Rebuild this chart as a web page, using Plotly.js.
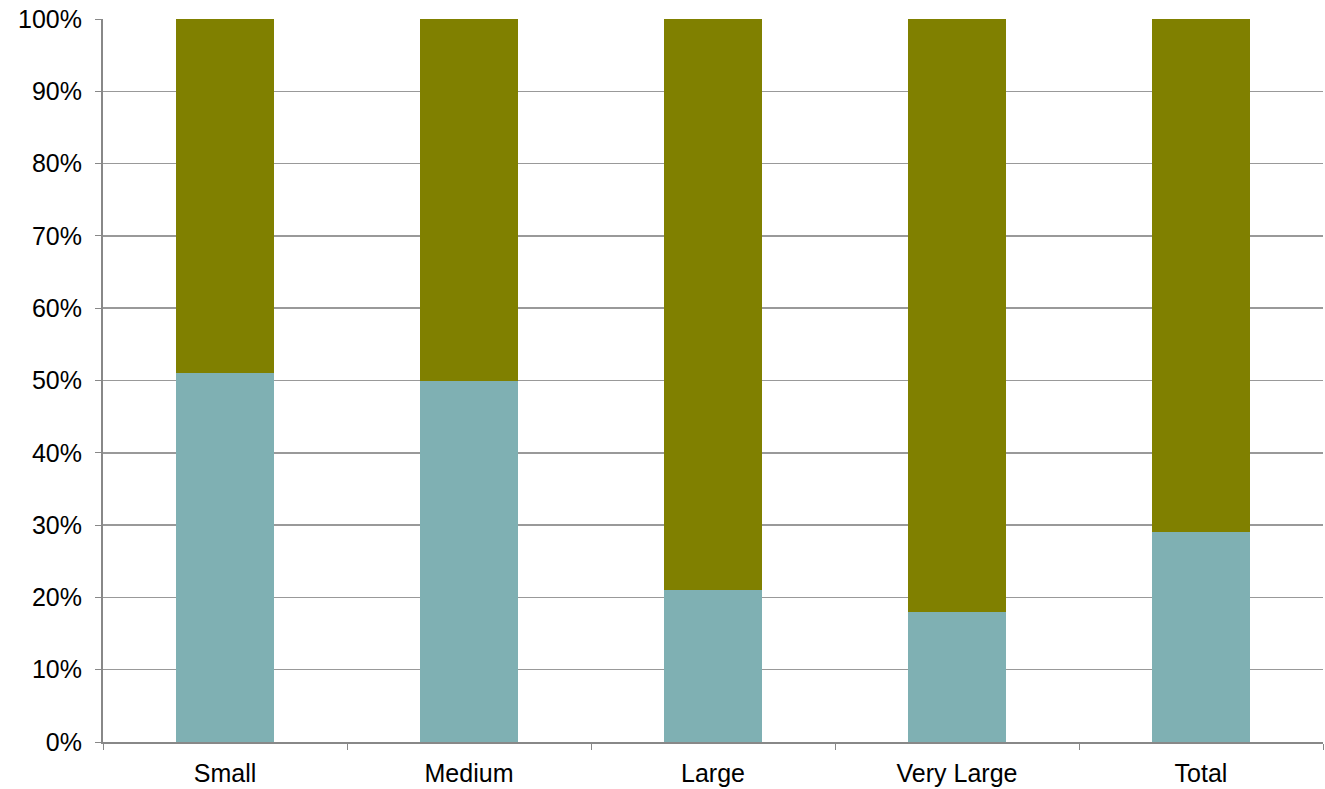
<!DOCTYPE html>
<html><head><meta charset="utf-8">
<script src="https://cdn.plot.ly/plotly-3.0.1.min.js"></script>
<style>html,body{margin:0;padding:0;background:#fff}#chart{width:1325px;height:789px}</style>
</head><body><div id="chart"></div>
<script>
const categories = ["Small", "Medium", "Large", "Very Large", "Total"];
const lowerShare = [51, 50, 21, 18, 29];
const upperShare = [49, 50, 79, 82, 71];

const traces = [
  {type: "bar", x: categories, y: lowerShare, marker: {color: "#7FB0B3"}, hoverinfo: "none"},
  {type: "bar", x: categories, y: upperShare, marker: {color: "#808000"}, hoverinfo: "none"}
];
const layout = {
  width: 1325, height: 789,
  margin: {l: 103, r: 2, t: 19, b: 47},
  barmode: "stack", bargap: 0.6,
  showlegend: false,
  paper_bgcolor: "#fff", plot_bgcolor: "#fff",
  font: {family: "Liberation Sans, Arial, sans-serif", size: 25, color: "#000"},
  xaxis: {type: "category", tickson: "boundaries", ticks: "outside", ticklen: 6, tickcolor: "#888",
          ticklabelstandoff: 8,
          showline: true, linecolor: "#888", linewidth: 2, showgrid: false, tickfont: {size: 25}},
  yaxis: {range: [0, 100], dtick: 10, ticksuffix: "%", ticks: "outside", ticklen: 6, tickcolor: "#888",
          ticklabelstandoff: 8,
          showline: true, linecolor: "#888", linewidth: 2, showgrid: true, gridcolor: "#999", gridwidth: 1.5,
          zeroline: false, tickfont: {size: 25}}
};
Plotly.newPlot("chart", traces, layout, {displayModeBar: false, staticPlot: true});
</script></body></html>
